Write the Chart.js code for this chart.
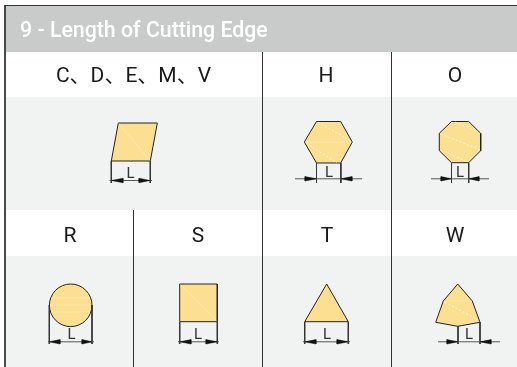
<!DOCTYPE html>
<html>
<head>
<meta charset="utf-8">
<style>
  html, body { margin: 0; padding: 0; background: #fff; }
  canvas { display: block; }
</style>
<script src="https://cdn.jsdelivr.net/npm/chart.js@4"></script>
</head>
<body>
<canvas id="sheet" width="517" height="367"></canvas>
<script>
/* Every list is in picture units: the x and y scales run 0-517 and 0-367 */
const title = '9 - Length of Cutting Edge';
const topLabels = ['C、D、E、M、V', 'H', 'O'];
const topLabelX = [133.5, 326, 455];
const bottomLabels = ['R', 'S', 'T', 'W'];
const bottomLabelX = [70, 198, 327, 455];

const headerBand = [[5,6],[517,6],[517,52],[5,52]];
const upperPanel = [[5,97],[517,97],[517,210],[5,210]];
const lowerPanel = [[5,256],[517,256],[517,367],[5,367]];
const rules = [
  [[5,5.5],[517,5.5]],
  [[5,5],[5,367]],
  [[262.5,52],[262.5,367]],
  [[391.5,52],[391.5,367]],
  [[133.5,210],[133.5,367]]
];

const rhombus = [[118.3,123],[157.3,123],[150.3,161],[111.3,161]];
const hexagon = [[316.5,121.5],[340.7,121.5],[352.3,142],[340.7,163],[316.5,163],[304.3,142]];
const octagon = [[451.5,121.5],[468.7,121.5],[480.7,133.3],[480.7,150.7],[468.7,162.7],[451.5,162.7],[439.3,150.7],[439.3,133.3]];
const square = [[179.7,284],[217.3,284],[217.3,321.7],[179.7,321.7]];
const triangle = [[326.7,284],[348.3,321.7],[304.7,321.7]];
const trigon = [[457.7,284],[472.3,301],[480,322.3],[457.7,326.3],[435.7,322.3],[443.3,301]];
const circleCentre = [[70.7,305.3]];

const outlines = [rhombus, hexagon, octagon, square, triangle, trigon];

const faintSolid = [
  [[118.3,123],[150.3,161]],
  [[304.3,142],[352.3,142]],
  [[179.7,284],[217.3,321.7]],
  [[443.3,301],[472.3,301]],
  [[51,298],[90,298]],
  [[50,305],[91,305]],
  [[51,312],[90,312]]
];
const faintDashed = [
  [[318,122],[349,140]],
  [[306,143],[337,163]],
  [[455,122],[478,132]],
  [[441,134],[480,150]],
  [[446,152],[468,162]],
  [[445,302],[478,320]]
];

// extension lines: [x, yFrom, yTo]
const extensions = [
  [111.3,161,183],[150.3,161,183],
  [316.5,163,183],[340.9,163,183],
  [451.5,163,183],[468.7,163,183],
  [49.3,305,344],[92,305,344],
  [179.7,322,344],[217.3,322,344],
  [304.7,322,344],[348.3,322,344],
  [458,326,344],[480,322,344]
];
// dimension lines: [xFrom, xTo, y, leftTip, leftTail, rightTip, rightTail]
const dimensions = [
  [109.5,152,180.5,111.3,123,150.3,139],
  [295,362,178.8,316.5,305,340.9,352],
  [431,489,178.8,451.5,441,468.7,479],
  [48,94,341.8,49.3,60,92,82],
  [178,219,341.8,179.7,191,217.3,206],
  [303,350,341.8,304.7,316,348.3,337],
  [438,500,341.8,458,447,480,491]
];
const lengthLabelX = [130.5, 329, 460, 71.5, 198, 327, 469];
const lengthLabelY = [178, 177, 177, 339, 339, 339, 339];

const FILL = '#fddf91';
const INK = '#222';
const pts = list => list.map(([x, y]) => ({ x, y }));
const closed = list => pts([...list, list[0]]);

const datasets = [];
const addFilled = (list, color, border, width) => datasets.push({
  data: closed(list), showLine: true, fill: 'shape', backgroundColor: color,
  borderColor: border, borderWidth: width, pointRadius: 0, tension: 0
});
const addLine = (list, color, width, dash) => datasets.push({
  data: pts(list), showLine: true, fill: false, borderColor: color,
  borderWidth: width, borderDash: dash || [], pointRadius: 0, tension: 0
});

// ── Table ─────────────────────────────────
addFilled(headerBand, '#c9cbca', '#c9cbca', 0);
addFilled(upperPanel, '#f1f3f3', '#f1f3f3', 0);
addFilled(lowerPanel, '#f1f3f3', '#f1f3f3', 0);
rules.forEach(r => addLine(r, '#333', 1));

// ── Inserts ───────────────────────────────
outlines.forEach(o => addFilled(o, FILL, INK, 1));
datasets.push({
  data: pts(circleCentre), showLine: false, pointStyle: 'circle', pointRadius: 21.3,
  backgroundColor: FILL, borderColor: INK, borderWidth: 1
});
faintSolid.forEach(l => addLine(l, 'rgba(255,255,255,0.25)', 1));
faintDashed.forEach(l => addLine(l, 'rgba(255,255,255,0.7)', 1, [2, 2]));

// ── Dimensions ────────────────────────────
extensions.forEach(([x, a, b]) => addLine([[x, a], [x, b]], '#333', 1));
dimensions.forEach(([a, b, y, lt, lb, rt, rb]) => {
  addLine([[a, y], [b, y]], '#555', 1);
  addFilled([[lt, y], [lb, y - 2.2], [lb, y + 2.2]], '#111', '#111', 0.5);
  addFilled([[rt, y], [rb, y - 2.2], [rb, y + 2.2]], '#111', '#111', 0.5);
});

const tableText = {
  id: 'tableText',
  afterDatasetsDraw(chart) {
    const { ctx, scales: { x, y } } = chart;
    const put = (text, px, py, font, color, align) => {
      ctx.font = font;
      ctx.fillStyle = color;
      ctx.textAlign = align;
      ctx.textBaseline = 'alphabetic';
      ctx.fillText(text, x.getPixelForValue(px), y.getPixelForValue(py));
    };
    const labelFont = "21px Roboto, 'Noto Sans CJK SC'";
    ctx.save();
    put(title, 20, 36.5, '500 21.3px Roboto', '#fff', 'left');
    topLabels.forEach((t, i) => put(t, topLabelX[i], 81.7, labelFont, '#1a1a1a', 'center'));
    bottomLabels.forEach((t, i) => put(t, bottomLabelX[i], 241.5, labelFont, '#1a1a1a', 'center'));
    lengthLabelX.forEach((px, i) => put('L', px, lengthLabelY[i], '400 15px Roboto', '#333', 'center'));
    ctx.restore();
  }
};

new Chart(document.getElementById('sheet').getContext('2d'), {
  type: 'scatter',
  data: { datasets: datasets.reverse() },   // first dataset is drawn last by Chart.js
  options: {
    responsive: false,
    animation: false,
    layout: { padding: 0, autoPadding: false },
    plugins: { legend: { display: false }, tooltip: { enabled: false } },
    scales: {
      x: { type: 'linear', min: 0, max: 517, display: false },
      y: { type: 'linear', min: 0, max: 367, reverse: true, display: false }
    }
  },
  plugins: [tableText]
});
</script>
</body>
</html>
